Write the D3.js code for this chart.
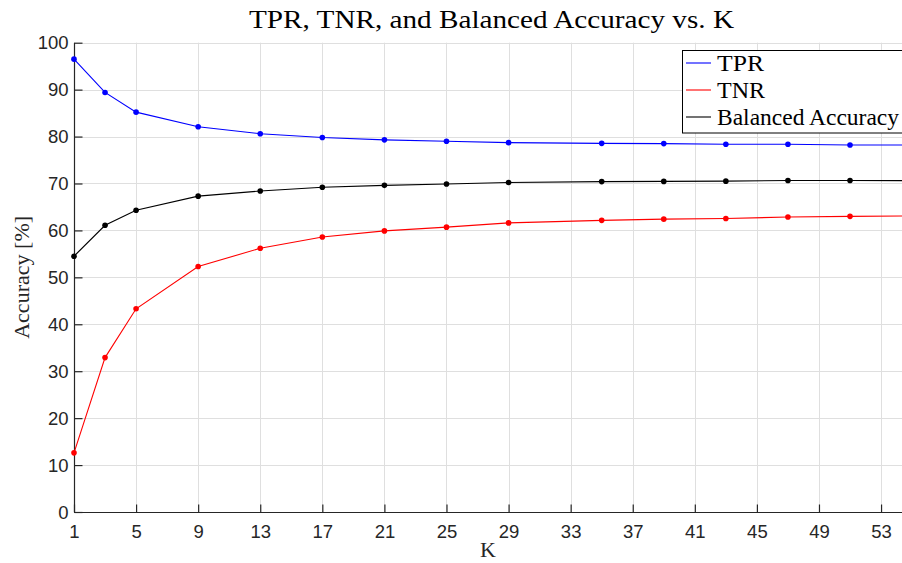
<!DOCTYPE html>
<html>
<head>
<meta charset="utf-8">
<script src="https://cdn.jsdelivr.net/npm/d3@7"></script>
<style>
  html, body { margin: 0; padding: 0; background: #fff; }
  svg { display: block; }
</style>
</head>
<body>
<svg id="chart" width="902" height="563"></svg>
<script>
// Neighbourhood size K and the measured rates (%)
const kValues = [1, 3, 5, 9, 13, 17, 21, 25, 29, 35, 39, 43, 47, 51, 55];
const tpr = [96.5, 89.4, 85.2, 82.1, 80.6, 79.8, 79.3, 79.0, 78.7, 78.55, 78.5, 78.35, 78.35, 78.2, 78.2];
const tnr = [12.6, 32.9, 43.3, 52.3, 56.2, 58.6, 59.9, 60.7, 61.6, 62.15, 62.4, 62.55, 62.85, 63.0, 63.1];
const balancedAcc = [54.5, 61.1, 64.3, 67.3, 68.4, 69.2, 69.6, 69.9, 70.2, 70.4, 70.45, 70.5, 70.65, 70.65, 70.6];
const xTicks = [1, 5, 9, 13, 17, 21, 25, 29, 33, 37, 41, 45, 49, 53];
const yTicks = [0, 10, 20, 30, 40, 50, 60, 70, 80, 90, 100];
const seriesNames = ["TPR", "TNR", "Balanced Accuracy"];
const seriesColors = ["#0000ff", "#ff0000", "#000000"];

const svg = d3.select("#chart");
const plotLeft = 74, plotRight = 912.1, plotTop = 42.7, plotBottom = 512;
const axisColor = "#262626";
const serif = "'Liberation Serif', 'DejaVu Serif', serif";
const sans = "'Liberation Sans', Arial, sans-serif";

const x = d3.scaleLinear().domain([1, 55]).range([plotLeft, plotRight]);
const y = d3.scaleLinear().domain([0, 100]).range([plotBottom, plotTop]);

// stretch a serif label to the given width so it reads like the LaTeX typesetting
function fitWidth(sel, w) {
  sel.attr("textLength", w).attr("lengthAdjust", "spacingAndGlyphs");
}

// grid
const grid = svg.append("g").attr("stroke", "#dfdfdf").attr("stroke-width", 1);
grid.selectAll("line.vx").data(xTicks).join("line").attr("class", "vx")
  .attr("x1", d => Math.round(x(d)) + 0.5).attr("x2", d => Math.round(x(d)) + 0.5)
  .attr("y1", plotTop).attr("y2", plotBottom);
grid.selectAll("line.hy").data(yTicks).join("line").attr("class", "hy")
  .attr("x1", plotLeft).attr("x2", plotRight)
  .attr("y1", d => Math.round(y(d)) + 0.5).attr("y2", d => Math.round(y(d)) + 0.5);

// axes with inward ticks
const xAxis = d3.axisTop(x).tickValues(xTicks).tickSize(8).tickFormat(d3.format("d"));
const yAxis = d3.axisRight(y).tickValues(yTicks).tickSize(8).tickFormat(d3.format("d"));

const gx = svg.append("g").attr("transform", `translate(0,${Math.round(plotBottom) + 0.5})`).call(xAxis);
const gy = svg.append("g").attr("transform", `translate(${plotLeft + 0.5},0)`).call(yAxis);
[gx, gy].forEach(g => {
  g.select(".domain").attr("stroke", axisColor).attr("stroke-width", 1.2);
  g.selectAll(".tick line").attr("stroke", axisColor).attr("stroke-width", 1.2);
  g.selectAll(".tick text").attr("fill", axisColor).attr("font-family", sans).attr("font-size", 18.5);
});
gy.selectAll(".tick text").attr("text-anchor", "end").attr("x", -6).attr("dy", "0.34em");
gx.selectAll(".tick text").attr("y", 12).attr("dy", "0.71em");
gx.select(".domain").attr("d", `M${plotLeft},0H${plotRight}`);
gy.select(".domain").attr("d", `M0,${plotBottom}V${plotTop}`);

// series
const series = [tpr, tnr, balancedAcc];
const line = d3.line().x((d, i) => x(kValues[i])).y(d => y(d));
series.forEach((vals, s) => {
  svg.append("path").datum(vals)
    .attr("fill", "none").attr("stroke", seriesColors[s]).attr("stroke-width", 1.1)
    .attr("d", line);
  svg.append("g").selectAll("circle").data(vals).join("circle")
    .attr("cx", (d, i) => x(kValues[i])).attr("cy", d => y(d))
    .attr("r", 2.8).attr("fill", seriesColors[s]);
});

// legend
const lg = svg.append("g");
lg.append("rect").attr("x", 682.5).attr("y", 50.5).attr("width", 240).attr("height", 82.5)
  .attr("fill", "#fff").attr("stroke", "#000").attr("stroke-width", 1);
const legendWidths = [47, 48, 182];
seriesNames.forEach((name, i) => {
  const cy = 63 + i * 27;
  lg.append("line").attr("x1", 686).attr("x2", 711).attr("y1", cy).attr("y2", cy)
    .attr("stroke", seriesColors[i]).attr("stroke-width", 1.1);
  lg.append("text").attr("x", 717).attr("y", cy + 8)
    .attr("font-family", serif).attr("font-size", 23).attr("fill", "#000")
    .text(name)
    .call(fitWidth, legendWidths[i]);
});

// title and axis labels
svg.append("text").attr("x", 491.5).attr("y", 28).attr("text-anchor", "middle")
  .attr("font-family", serif).attr("font-size", 26).attr("fill", "#000")
  .text("TPR, TNR, and Balanced Accuracy vs. K")
  .call(fitWidth, 485);
svg.append("text").attr("x", 488).attr("y", 557).attr("text-anchor", "middle")
  .attr("font-family", serif).attr("font-size", 22).attr("fill", axisColor)
  .text("K");
svg.append("text").attr("transform", `translate(29,${(plotTop + plotBottom) / 2}) rotate(-90)`)
  .attr("text-anchor", "middle")
  .attr("font-family", serif).attr("font-size", 22).attr("fill", axisColor)
  .text("Accuracy [%]")
  .call(fitWidth, 123);
</script>
</body>
</html>
